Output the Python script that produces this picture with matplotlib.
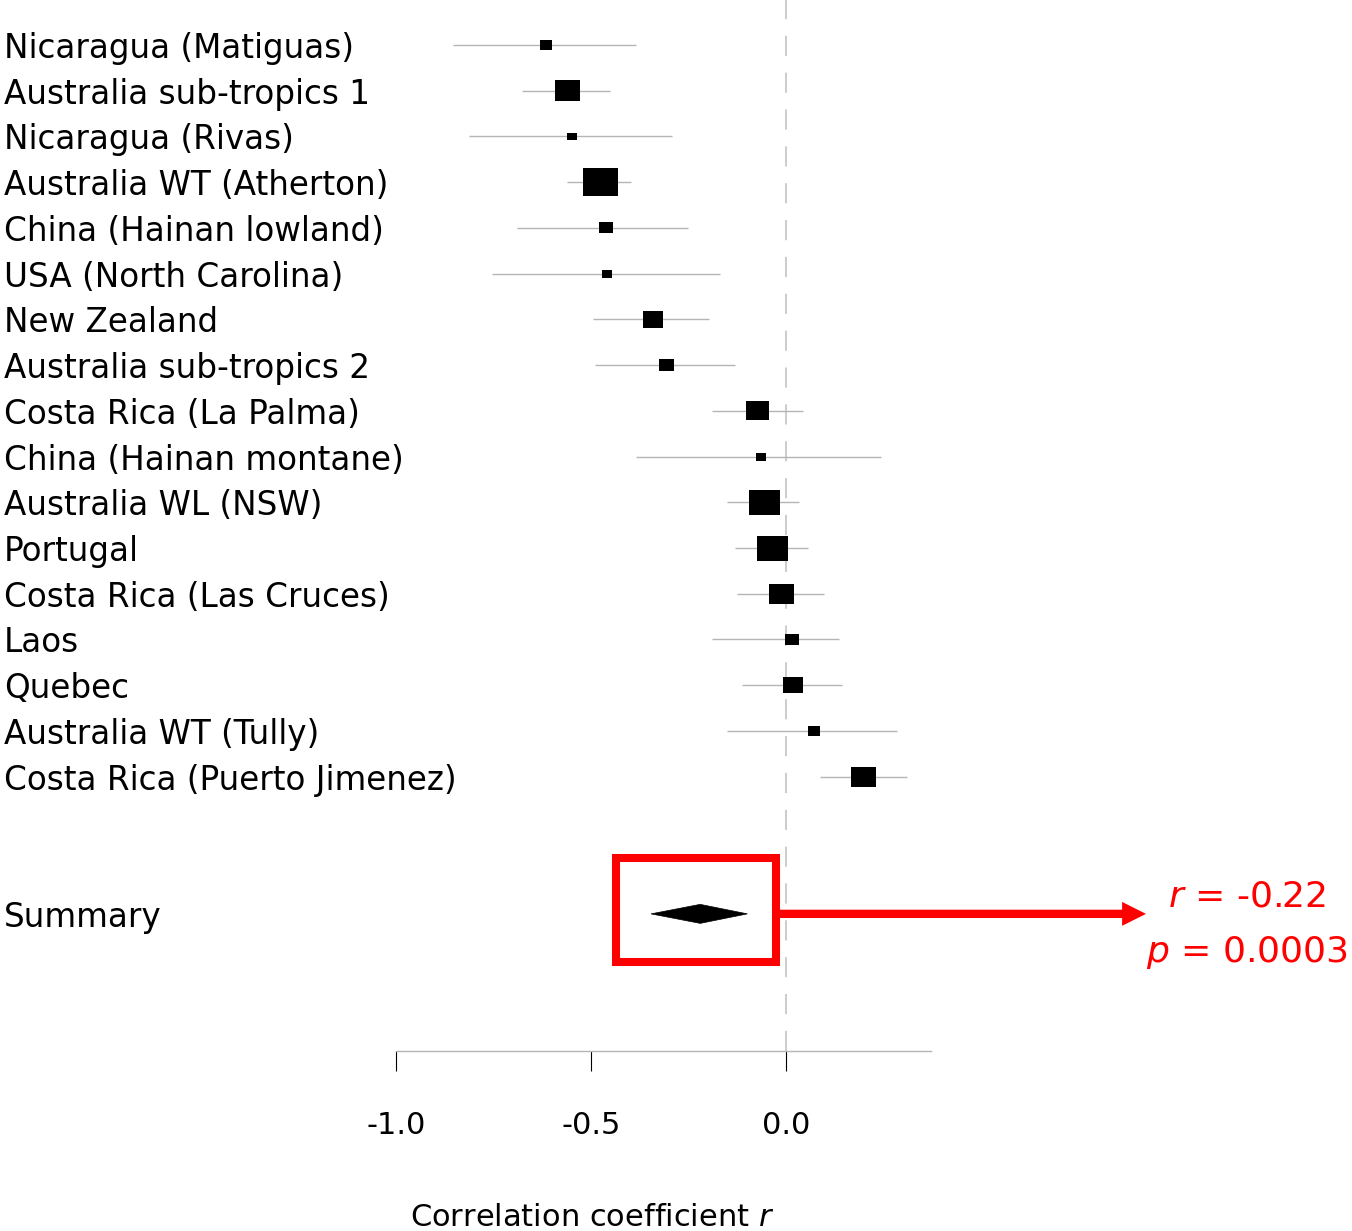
import matplotlib
matplotlib.use("Agg")
import matplotlib.pyplot as plt
from matplotlib.patches import Rectangle, Polygon

plt.rcParams['font.family'] = ['DejaVu Sans']
plt.rcParams['mathtext.fontset'] = 'dejavusans'
plt.rcParams['axes.unicode_minus'] = False

# ---------------- data ----------------
studies = ["Nicaragua (Matiguas)", "Australia sub-tropics 1", "Nicaragua (Rivas)",
           "Australia WT (Atherton)", "China (Hainan lowland)", "USA (North Carolina)",
           "New Zealand", "Australia sub-tropics 2", "Costa Rica (La Palma)",
           "China (Hainan montane)", "Australia WL (NSW)", "Portugal",
           "Costa Rica (Las Cruces)", "Laos", "Quebec", "Australia WT (Tully)",
           "Costa Rica (Puerto Jimenez)"]
r_est = [-0.615, -0.560, -0.549, -0.475, -0.462, -0.459, -0.342, -0.307, -0.073,
         -0.065, -0.056, -0.035, -0.011, 0.015, 0.019, 0.072, 0.198]
ci_lo = [-0.854, -0.677, -0.813, -0.562, -0.690, -0.754, -0.495, -0.490, -0.190,
         -0.384, -0.150, -0.131, -0.126, -0.190, -0.113, -0.150, 0.087]
ci_hi = [-0.385, -0.451, -0.292, -0.397, -0.250, -0.168, -0.198, -0.132, 0.043,
         0.243, 0.033, 0.056, 0.097, 0.136, 0.144, 0.284, 0.309]
weights = [3.5, 7.7, 2.8, 10.5, 4.1, 2.9, 6.1, 4.4, 7.1, 3.0, 9.3, 9.4, 7.7, 4.4,
           6.1, 3.6, 7.5]

summary_label = "Summary"
summary_est = -0.22
summary_lo = -0.346
summary_hi = -0.099
summary_r_text = "$r$ = -0.22"
summary_p_text = "$p$ = 0.0003"

tick_values = [-1.0, -0.5, 0.0]
tick_labels = ["-1.0", "-0.5", "0.0"]
x_label = "Correlation coefficient $r$"

# ---------------- layout ----------------
W, H = 1352, 1231
fig = plt.figure(figsize=(W / 100, H / 100), dpi=100)
ax = fig.add_axes([0, 0, 1, 1])

px_per_r = 390.0
px_zero = 786.0
row_px = 45.73
row0_px = 45.0
ax.set_xlim((0 - px_zero) / px_per_r, (W - px_zero) / px_per_r)
ax.set_ylim((H - row0_px) / row_px, (0 - row0_px) / row_px)

summary_row = len(studies) + 2
axis_row = summary_row + 3

gray = '#b5b5b5'
label_size = 23.5
# reference line at 0
y_top = ax.get_ylim()[1]
ax.plot([0, 0], [axis_row, y_top], color='#cdcdcd', lw=1.45,
        linestyle=(0, (10, 8.3)), zorder=1)

# study rows
box_h_scale = 2.6645 / row_px          # rows per weight unit
box_w_scale = 2.6645 * 1.24 / px_per_r  # r units per weight unit
label_x = (4 - px_zero) / px_per_r
for i, (name, est, lo, hi, w) in enumerate(zip(studies, r_est, ci_lo, ci_hi, weights)):
    ax.plot([lo, hi], [i, i], color=gray, lw=1.0, zorder=2, solid_capstyle='butt')
    bw = w * box_w_scale
    bh = w * box_h_scale
    ax.add_patch(Rectangle((est - bw / 2, i - bh / 2), bw, bh, facecolor='black',
                           edgecolor='none', zorder=3))
    ax.text(label_x, i, name, ha='left', va='center_baseline', fontsize=label_size,
            color='black')

# summary diamond
dh = 9.5 / row_px
ax.add_patch(Polygon([(summary_lo, summary_row), (summary_est, summary_row - dh),
                      (summary_hi, summary_row), (summary_est, summary_row + dh)],
                     closed=True, facecolor='black', edgecolor='black', lw=0.5,
                     zorder=3))
ax.text(label_x, summary_row, summary_label, ha='left', va='center_baseline',
        fontsize=label_size, color='black')

# red highlight box, arrow and text
box_left = (616 - px_zero) / px_per_r
box_right = (776 - px_zero) / px_per_r
box_top = (858 - row0_px) / row_px
box_bot = (962 - row0_px) / row_px
ax.add_patch(Rectangle((box_left, box_top), box_right - box_left, box_bot - box_top,
                       facecolor='none', edgecolor='#ff0000', lw=5.8, zorder=4,
                       joinstyle='miter'))
arrow_tip = (1146 - px_zero) / px_per_r
ax.annotate('', xy=(arrow_tip, summary_row), xytext=(box_right, summary_row),
            arrowprops=dict(arrowstyle='simple,head_length=0.86,head_width=0.86,tail_width=0.30',
                            mutation_scale=20, facecolor='#ff0000', edgecolor='none',
                            lw=0, shrinkA=0, shrinkB=0), zorder=4)
text_x = (1247 - px_zero) / px_per_r
ax.text(text_x, (906 - row0_px) / row_px, summary_r_text, ha='center', va='baseline',
        fontsize=26, color='#ff0000')
ax.text(text_x, (962 - row0_px) / row_px, summary_p_text, ha='center', va='baseline',
        fontsize=26, color='#ff0000')

# x axis
for s in ['top', 'left', 'right']:
    ax.spines[s].set_visible(False)
ax.spines['bottom'].set_position(('data', axis_row))
ax.spines['bottom'].set_bounds(-1.0, 0.372)
ax.spines['bottom'].set_color(gray)
ax.spines['bottom'].set_linewidth(1.0)
ax.set_xticks(tick_values)
ax.set_xticklabels(tick_labels)
ax.set_yticks([])
ax.tick_params(axis='x', direction='out', length=14.4, width=0.8, color='black',
               labelsize=22, pad=29)
ax.set_xlabel(x_label, fontsize=22)
ax.xaxis.set_label_coords(592 / W, (H - 1203) / H)
ax.patch.set_alpha(0)

fig.savefig("out.png", dpi=100)
